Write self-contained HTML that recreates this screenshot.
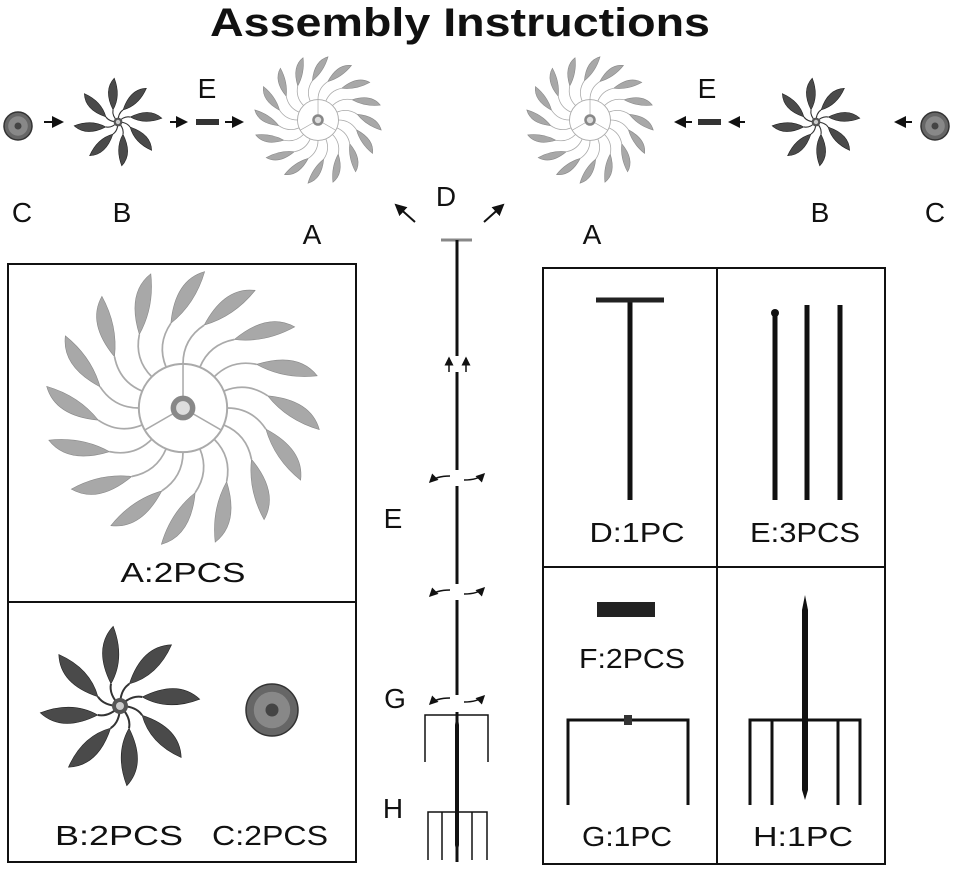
<!DOCTYPE html>
<html><head><meta charset="utf-8"><style>
html,body{margin:0;padding:0;background:#fff;}
svg{display:block}
text{font-family:"Liberation Sans",sans-serif;fill:#111}
</style></head><body>
<svg id="s" width="959" height="869" viewBox="0 0 959 869" xmlns="http://www.w3.org/2000/svg">
<defs>
<marker id="ar" markerWidth="6" markerHeight="6" refX="5" refY="3" orient="auto"><path d="M0,0 L6,3 L0,6 Z" fill="#111"/></marker>
</defs>
<text x="460" y="36" font-size="40" font-weight="bold" text-anchor="middle" textLength="500" lengthAdjust="spacingAndGlyphs">Assembly Instructions</text>
<g font-size="28" text-anchor="middle">
<text x="22" y="222">C</text><text x="122" y="222">B</text><text x="312" y="244">A</text>
<text x="446" y="206">D</text><text x="592" y="244">A</text><text x="820" y="222">B</text><text x="935" y="222">C</text>
<text x="207" y="98">E</text><text x="707" y="98">E</text>
<text x="393" y="528">E</text><text x="395" y="708">G</text><text x="393" y="818">H</text>
</g>
<g stroke="#111" stroke-width="2" marker-end="url(#ar)">
<line x1="44" y1="122" x2="62" y2="122"/><line x1="170" y1="122" x2="186" y2="122"/><line x1="225" y1="122" x2="242" y2="122"/>
<line x1="912" y1="122" x2="896" y2="122"/><line x1="745" y1="122" x2="730" y2="122"/><line x1="692" y1="122" x2="676" y2="122"/>
<line x1="415" y1="222" x2="396" y2="205"/><line x1="484" y1="222" x2="503" y2="205"/>
</g>
<rect x="196" y="119" width="23" height="6" fill="#333"/><rect x="698" y="119" width="23" height="6" fill="#333"/>
<g id="wheels"></g>
<rect x="8" y="264" width="348" height="598" fill="none" stroke="#111" stroke-width="2"/>
<line x1="8" y1="602" x2="356" y2="602" stroke="#111" stroke-width="2"/>
<g font-size="28" text-anchor="middle">
<text x="183" y="582" textLength="125" lengthAdjust="spacingAndGlyphs">A:2PCS</text><text x="119" y="845" textLength="128" lengthAdjust="spacingAndGlyphs">B:2PCS</text><text x="270" y="845" textLength="116" lengthAdjust="spacingAndGlyphs">C:2PCS</text>
</g>
<g stroke="#111" stroke-width="3">
<line x1="441" y1="240" x2="472" y2="240" stroke="#888"/>
<line x1="457" y1="240" x2="457" y2="356"/><line x1="457" y1="372" x2="457" y2="470"/>
<line x1="457" y1="486" x2="457" y2="584"/><line x1="457" y1="600" x2="457" y2="695"/>
<line x1="457" y1="712" x2="457" y2="862"/>
</g>
<g stroke="#111" stroke-width="1.5" fill="none">
<line x1="449" y1="372" x2="449" y2="358" marker-end="url(#ar)"/><line x1="466" y1="372" x2="466" y2="358" marker-end="url(#ar)"/>
<path d="M450,476 q-14,0 -20,6" marker-end="url(#ar)"/><path d="M464,480 q14,0 20,-6" marker-end="url(#ar)"/>
<path d="M450,590 q-14,0 -20,6" marker-end="url(#ar)"/><path d="M464,594 q14,0 20,-6" marker-end="url(#ar)"/>
<path d="M450,698 q-14,0 -20,6" marker-end="url(#ar)"/><path d="M464,702 q14,0 20,-6" marker-end="url(#ar)"/>
<path d="M425,762 V715 H488 V762" stroke-width="1.5"/>
<path d="M428,860 V812 H487 V860"/><line x1="442" y1="812" x2="442" y2="860"/><line x1="472" y1="812" x2="472" y2="860"/>
</g>
<rect x="543" y="268" width="342" height="596" fill="none" stroke="#111" stroke-width="2"/>
<line x1="717" y1="268" x2="717" y2="864" stroke="#111" stroke-width="2"/>
<line x1="543" y1="567" x2="885" y2="567" stroke="#111" stroke-width="2"/>
<g stroke="#111" stroke-width="5">
<line x1="630" y1="300" x2="630" y2="500"/>
<line x1="775" y1="312" x2="775" y2="500"/><line x1="807" y1="305" x2="807" y2="500"/><line x1="840" y1="305" x2="840" y2="500"/>
</g>
<line x1="596" y1="300" x2="664" y2="300" stroke="#222" stroke-width="5"/>
<circle cx="775" cy="313" r="4" fill="#111"/>
<rect x="597" y="602" width="58" height="15" fill="#222"/>
<g fill="none" stroke="#111" stroke-width="3">
<path d="M568,805 V720 H688 V805"/>
<path d="M750,805 V720 H860 V805"/><line x1="772" y1="720" x2="772" y2="805"/><line x1="838" y1="720" x2="838" y2="805"/>
</g>
<rect x="624" y="715" width="8" height="10" fill="#333"/>
<path d="M805,595 L808,610 L808,790 L805,800 L802,790 L802,610 Z" fill="#111"/>
<path d="M457,712 L459,725 L459,845 L457,855 L455,845 L455,725 Z" fill="#111"/>
<g font-size="28" text-anchor="middle">
<text x="637" y="542" textLength="95" lengthAdjust="spacingAndGlyphs">D:1PC</text><text x="805" y="542" textLength="110" lengthAdjust="spacingAndGlyphs">E:3PCS</text>
<text x="632" y="668" textLength="106" lengthAdjust="spacingAndGlyphs">F:2PCS</text><text x="627" y="846" textLength="90" lengthAdjust="spacingAndGlyphs">G:1PC</text><text x="803" y="846" textLength="100" lengthAdjust="spacingAndGlyphs">H:1PC</text>
</g>
</svg>
<script>
var NS="http://www.w3.org/2000/svg",g=document.getElementById("wheels");
function el(t,a){var e=document.createElementNS(NS,t);for(var k in a)e.setAttribute(k,a[k]);g.appendChild(e);return e;}
function wheelA(cx,cy,R){
 var hub=R*0.32;
 el("circle",{cx:cx,cy:cy,r:hub,fill:"none",stroke:"#aaa","stroke-width":R/70});
 for(var i=0;i<3;i++){var a=i*2.094-1.57;el("line",{x1:cx,y1:cy,x2:cx+hub*Math.cos(a),y2:cy+hub*Math.sin(a),stroke:"#aaa","stroke-width":R/90});}
 for(var i=0;i<16;i++){var a=i*Math.PI*2/16;
  var x0=cx+hub*Math.cos(a),y0=cy+hub*Math.sin(a);
  var a1=a+0.25,r1=R*0.62,x1=cx+r1*Math.cos(a1),y1=cy+r1*Math.sin(a1);
  el("path",{d:"M"+x0+","+y0+" Q"+(cx+R*0.5*Math.cos(a))+","+(cy+R*0.5*Math.sin(a))+" "+x1+","+y1,fill:"none",stroke:"#aaa","stroke-width":R/80});
  var xa=cx+R*0.93*Math.cos(a1+0.08),ya=cy+R*0.93*Math.sin(a1+0.08);
  var xb=cx+R*0.76*Math.cos(a1+0.26),yb=cy+R*0.76*Math.sin(a1+0.26);
  var xt=cx+R*Math.cos(a1+0.3),yt=cy+R*Math.sin(a1+0.3);
  el("path",{d:"M"+x1+","+y1+" Q"+xa+","+ya+" "+xt+","+yt+" Q"+xb+","+yb+" "+x1+","+y1,fill:"#a8a8a8",stroke:"#888","stroke-width":0.6});
 }
 el("circle",{cx:cx,cy:cy,r:R*0.09,fill:"#888"});el("circle",{cx:cx,cy:cy,r:R*0.05,fill:"#ddd"});
}
function wheelB(cx,cy,R){
 for(var i=0;i<8;i++){var a=i*Math.PI/4;
  var x1=cx+R*0.3*Math.cos(a+0.4),y1=cy+R*0.3*Math.sin(a+0.4);
  el("path",{d:"M"+cx+","+cy+" Q"+(cx+R*0.2*Math.cos(a))+","+(cy+R*0.2*Math.sin(a))+" "+x1+","+y1,fill:"none",stroke:"#333","stroke-width":R/40});
  var xt=cx+R*Math.cos(a+0.7),yt=cy+R*Math.sin(a+0.7);
  var xa=cx+R*0.8*Math.cos(a+0.35),ya=cy+R*0.8*Math.sin(a+0.35);
  var xb=cx+R*0.6*Math.cos(a+0.9),yb=cy+R*0.6*Math.sin(a+0.9);
  el("path",{d:"M"+x1+","+y1+" Q"+xa+","+ya+" "+xt+","+yt+" Q"+xb+","+yb+" "+x1+","+y1,fill:"#4a4a4a",stroke:"#222","stroke-width":0.6});
 }
 el("circle",{cx:cx,cy:cy,r:R*0.1,fill:"#555"});el("circle",{cx:cx,cy:cy,r:R*0.05,fill:"#ccc"});
}
function cap(cx,cy,r){el("circle",{cx:cx,cy:cy,r:r,fill:"#666",stroke:"#333","stroke-width":1.5});
 el("circle",{cx:cx,cy:cy,r:r*0.7,fill:"#888"});el("circle",{cx:cx,cy:cy,r:r*0.25,fill:"#444"});}
wheelA(318,120,64);wheelA(590,120,64);wheelA(183,408,138);
wheelB(118,122,44);wheelB(816,122,44);wheelB(120,706,80);
cap(18,126,14);cap(935,126,14);cap(272,710,26);
</script>
</body></html>
